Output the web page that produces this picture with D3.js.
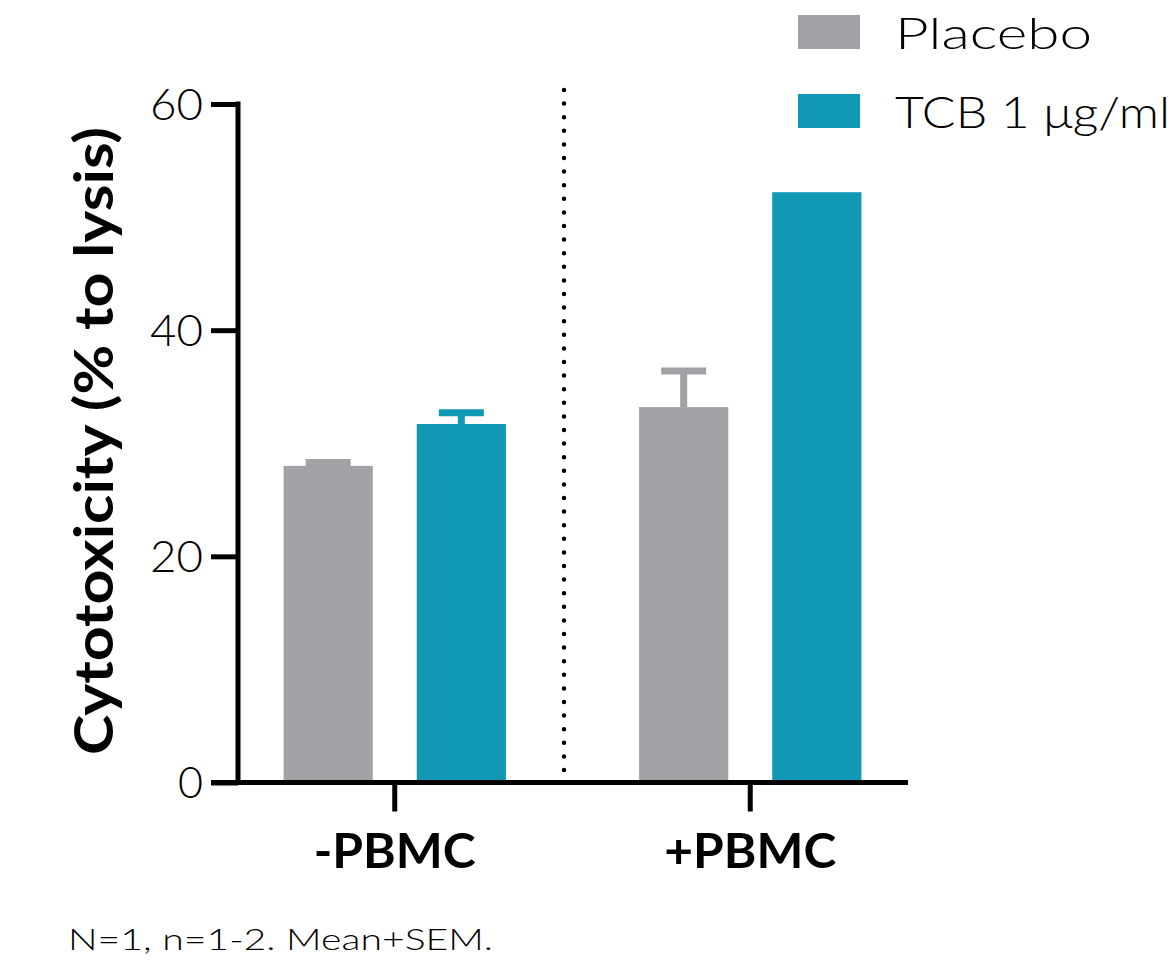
<!DOCTYPE html>
<html><head><meta charset="utf-8">
<script src="https://cdn.jsdelivr.net/npm/d3@7"></script>
<style>body{margin:0;background:#fff}svg{display:block}text{font-family:Lato,"Open Sans",sans-serif}</style>
</head><body>
<svg id="c" width="1176" height="962"></svg>
<script>
const categories = ["-PBMC", "+PBMC"];
const seriesNames = ["Placebo", "TCB 1 μg/ml"];
const placeboMean = [28.0, 33.2];
const placeboSem = [0.3, 3.2];
const tcbMean = [31.7, 52.2];
const tcbSem = [1.0, 0];
const yTicks = [0, 20, 40, 60];
const colors = ["#a2a1a6", "#1198b4"];

const svg = d3.select("#c");
const y = d3.scaleLinear().domain([0, 60]).range([782.5, 104]);
const x0 = d3.scaleBand().domain(categories).range([217, 928]).paddingInner(0).paddingOuter(0);
const x1 = d3.scaleBand().domain(seriesNames).range([0, x0.bandwidth()]).paddingInner(0.33).paddingOuter(0.5);

function fit(sel, w) { sel.attr("textLength", w).attr("lengthAdjust", "spacingAndGlyphs"); }

const data = [];
categories.forEach((c, i) => {
  data.push({c, s: seriesNames[0], v: placeboMean[i], e: placeboSem[i], col: colors[0]});
  data.push({c, s: seriesNames[1], v: tcbMean[i], e: tcbSem[i], col: colors[1]});
});

// error bars (behind bars)
const eb = svg.append("g");
data.filter(d => d.e > 0).forEach(d => {
  const cx = x0(d.c) + x1(d.s) + x1.bandwidth() / 2;
  eb.append("line").attr("x1", cx).attr("x2", cx).attr("y1", y(d.v)).attr("y2", y(d.v + d.e))
    .attr("stroke", d.col).attr("stroke-width", 7);
  eb.append("line").attr("x1", cx - 22.5).attr("x2", cx + 22.5).attr("y1", y(d.v + d.e)).attr("y2", y(d.v + d.e))
    .attr("stroke", d.col).attr("stroke-width", 7);
});

svg.append("g").selectAll("rect").data(data).join("rect")
  .attr("x", d => x0(d.c) + x1(d.s))
  .attr("width", x1.bandwidth())
  .attr("y", d => y(d.v))
  .attr("height", d => y(0) - y(d.v))
  .attr("fill", d => d.col);

// dotted divider
svg.append("line").attr("x1", 564).attr("x2", 564).attr("y1", 90).attr("y2", 780)
  .attr("stroke", "#000").attr("stroke-width", 4.5).attr("stroke-linecap", "round")
  .attr("stroke-dasharray", "0 13.6");

// y axis
const yAxis = svg.append("g").attr("transform", "translate(238,0)")
  .call(d3.axisLeft(y).tickValues(yTicks).tickSize(27).tickPadding(8));
yAxis.select(".domain").attr("d", `M0,${y(60) - 2.5}V${y(0)}`).attr("stroke-width", 5).attr("stroke", "#000");
yAxis.selectAll(".tick line").attr("stroke-width", 5).attr("stroke", "#000");
yAxis.selectAll(".tick text").attr("font-size", 43).attr("fill", "#000").attr("font-weight", 300)
  .attr("dy", "0.36em").each(function(d) { fit(d3.select(this), d === 0 ? 25 : 53); });

// x axis
const xAxis = svg.append("g").attr("transform", `translate(0,${y(0)})`)
  .call(d3.axisBottom(x0).tickSize(29));
xAxis.select(".domain").attr("d", `M211,0H908`).attr("stroke-width", 5).attr("stroke", "#000");
xAxis.selectAll(".tick line").attr("stroke-width", 5).attr("stroke", "#000");
xAxis.selectAll(".tick text").attr("font-size", 48).attr("font-weight", 700).attr("fill", "#000")
  .attr("y", 868 - y(0)).attr("dy", 0)
  .each(function(d) { fit(d3.select(this), d === "-PBMC" ? 162 : 172); });

// y label
svg.append("text").attr("transform", "translate(113,441) rotate(-90)")
  .attr("text-anchor", "middle").attr("font-size", 54).attr("font-weight", 700)
  .text("Cytotoxicity (% to lysis)").call(fit, 628);

// legend
const lg = svg.append("g");
seriesNames.forEach((s, i) => {
  lg.append("rect").attr("x", 798).attr("y", 15 + i * 79).attr("width", 62).attr("height", 34).attr("fill", colors[i]);
  lg.append("text").attr("x", 895).attr("y", 49 + i * 79).attr("font-size", 44).attr("font-weight", 300)
    .text(s).call(fit, i === 0 ? 197 : 275);
});

// footnote
svg.append("text").attr("x", 68).attr("y", 950).attr("font-size", 30).attr("font-weight", 300)
  .text("N=1, n=1-2. Mean+SEM.").call(fit, 425);
</script>
</body></html>
